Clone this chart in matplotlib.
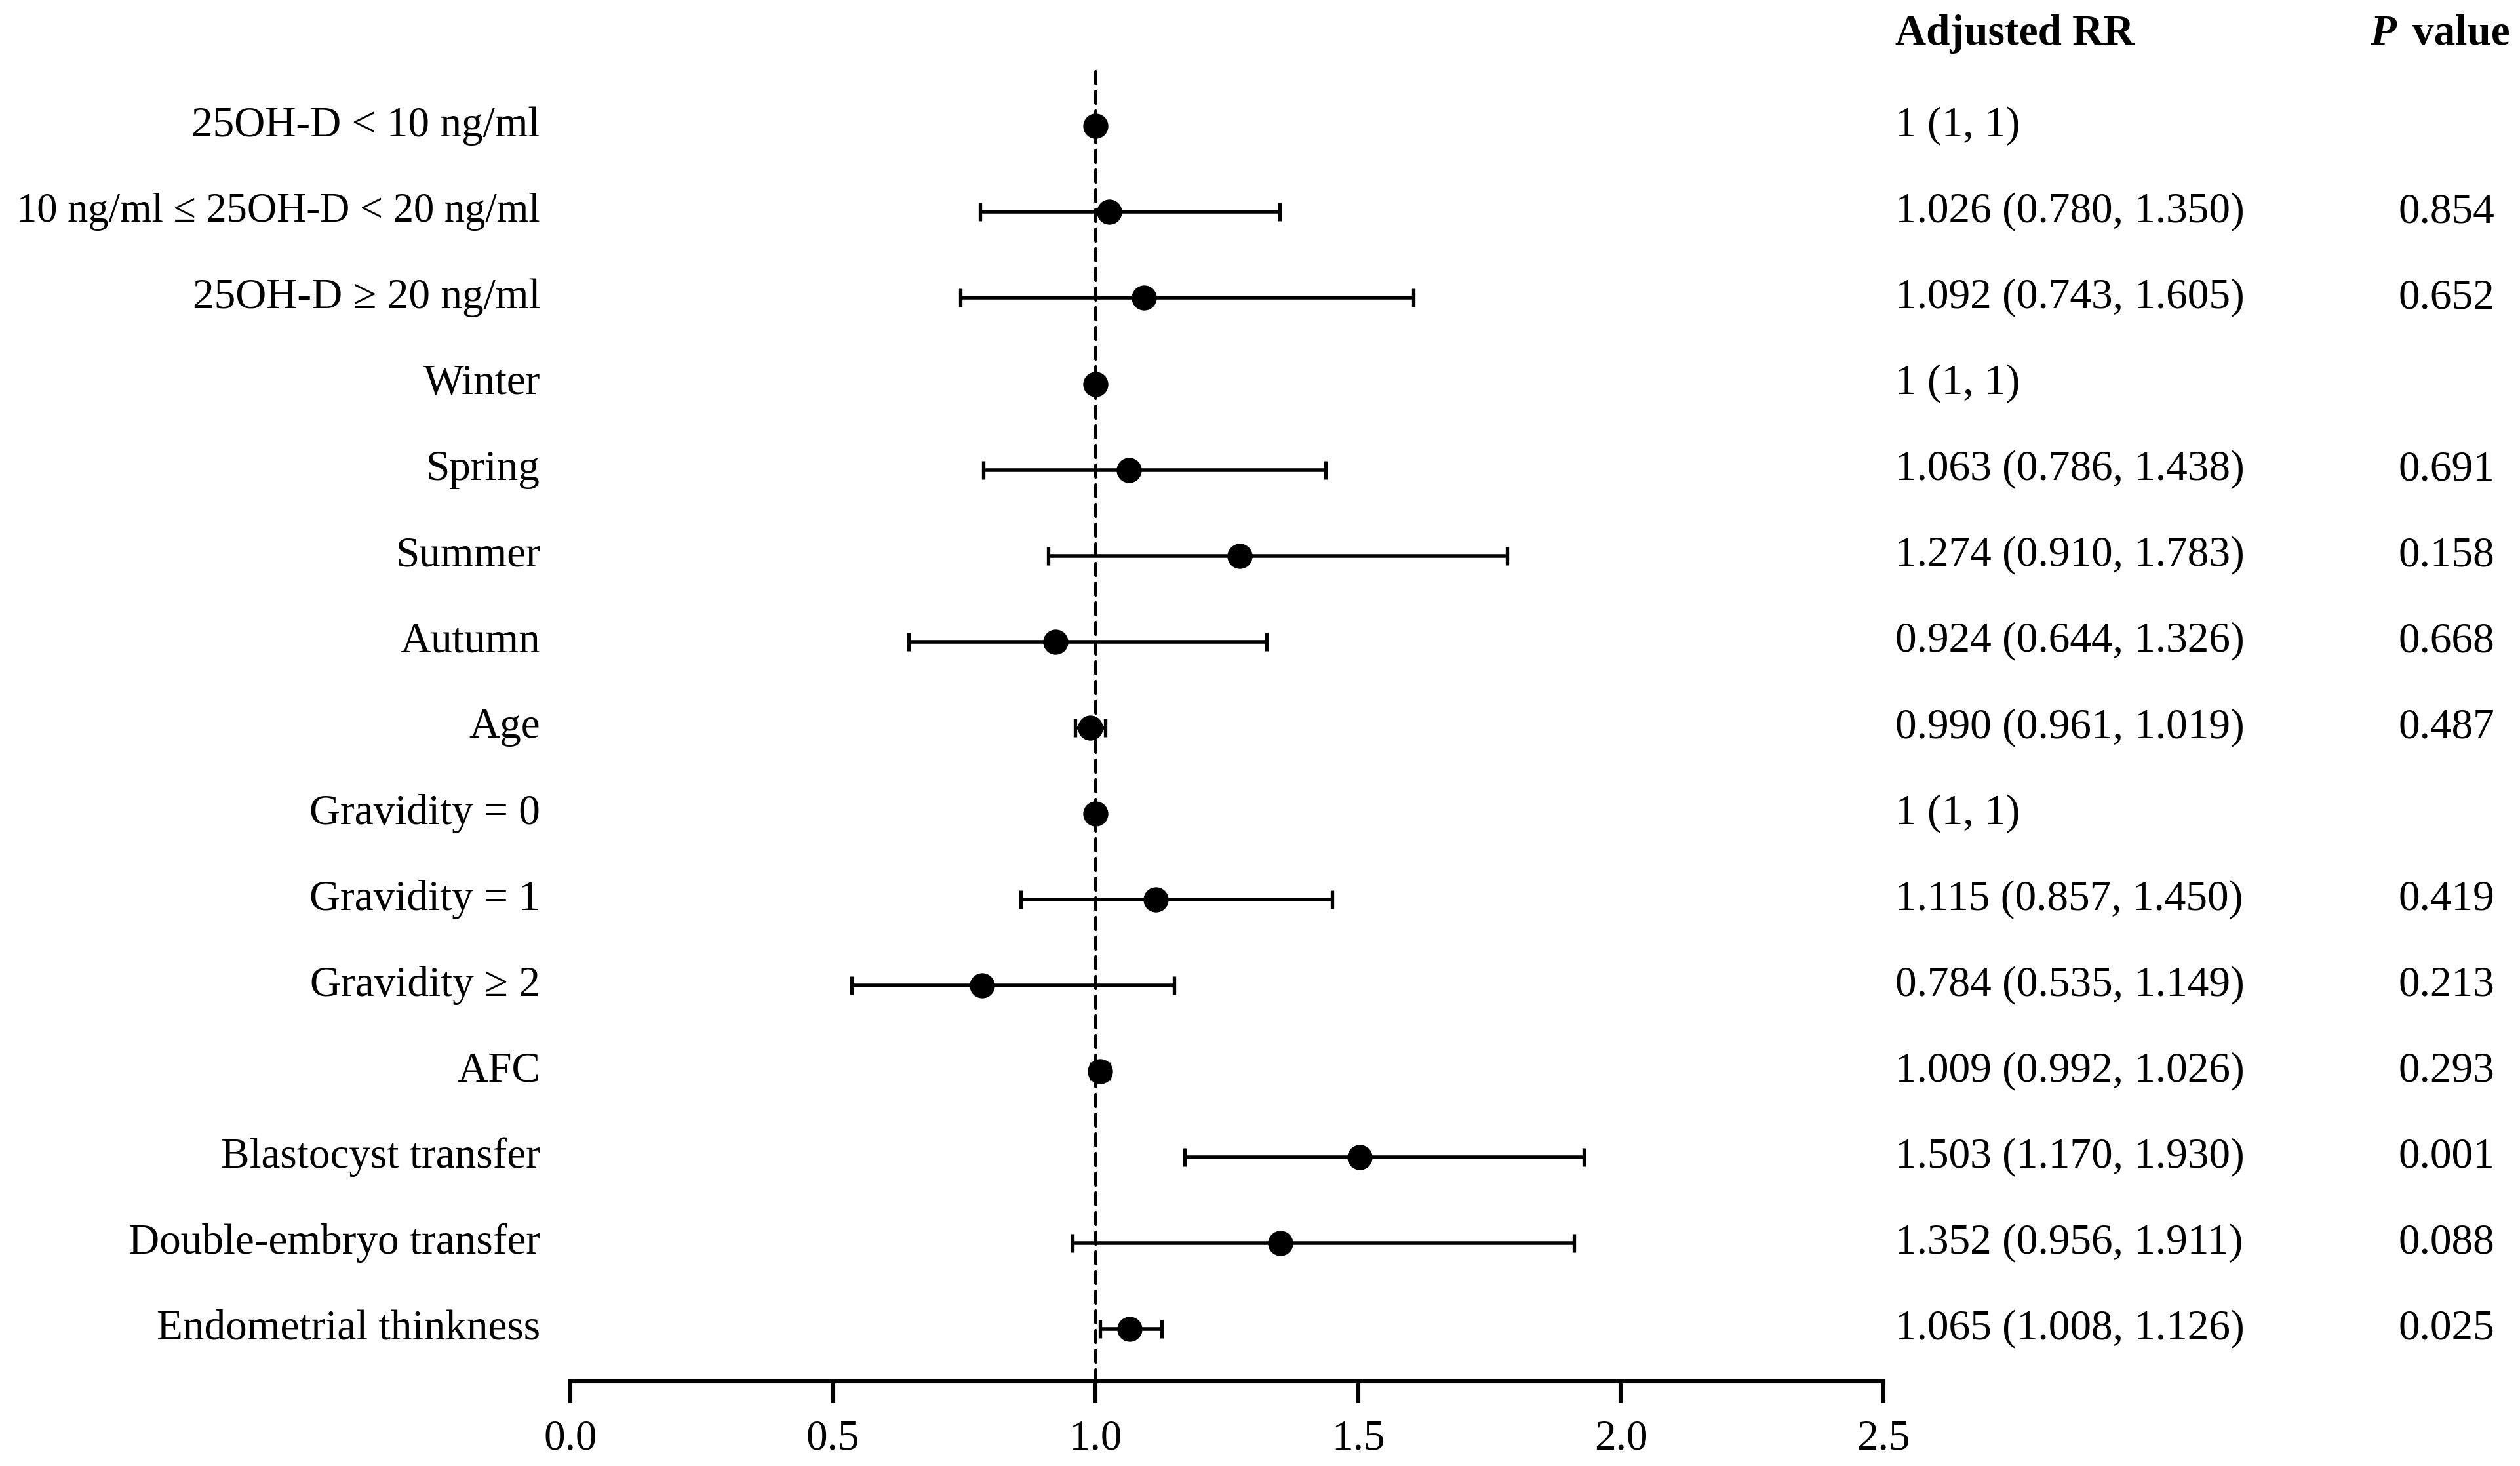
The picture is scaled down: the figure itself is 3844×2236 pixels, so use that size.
import matplotlib
matplotlib.use("Agg")
import matplotlib.pyplot as plt
import matplotlib.transforms as mtransforms
import numpy as np

# data
labels = ["25OH-D < 10 ng/ml", "10 ng/ml \u2264 25OH-D < 20 ng/ml", "25OH-D \u2265 20 ng/ml",
          "Winter", "Spring", "Summer", "Autumn", "Age",
          "Gravidity = 0", "Gravidity = 1", "Gravidity \u2265 2", "AFC",
          "Blastocyst transfer", "Double-embryo transfer", "Endometrial thinkness"]
rr = [1, 1.026, 1.092, 1, 1.063, 1.274, 0.924, 0.990, 1, 1.115, 0.784, 1.009, 1.503, 1.352, 1.065]
lo = [1, 0.780, 0.743, 1, 0.786, 0.910, 0.644, 0.961, 1, 0.857, 0.535, 0.992, 1.170, 0.956, 1.008]
hi = [1, 1.350, 1.605, 1, 1.438, 1.783, 1.326, 1.019, 1, 1.450, 1.149, 1.026, 1.930, 1.911, 1.126]
rr_text = ["1 (1, 1)", "1.026 (0.780, 1.350)", "1.092 (0.743, 1.605)", "1 (1, 1)",
           "1.063 (0.786, 1.438)", "1.274 (0.910, 1.783)", "0.924 (0.644, 1.326)",
           "0.990 (0.961, 1.019)", "1 (1, 1)", "1.115 (0.857, 1.450)", "0.784 (0.535, 1.149)",
           "1.009 (0.992, 1.026)", "1.503 (1.170, 1.930)", "1.352 (0.956, 1.911)",
           "1.065 (1.008, 1.126)"]
p_text = ["", "0.854", "0.652", "", "0.691", "0.158", "0.668", "0.487", "", "0.419",
          "0.213", "0.293", "0.001", "0.088", "0.025"]
xticks = [0.0, 0.5, 1.0, 1.5, 2.0, 2.5]

plt.rcParams["font.family"] = ["Liberation Serif", "DejaVu Serif"]
plt.rcParams["font.size"] = 23.5

W, H = 3844, 2236
fig = plt.figure(figsize=(W / 200, H / 200), dpi=200)
ax = fig.add_axes([870 / W, 1 - 2107 / H, 2003 / W, (2107 - 98) / H])

y = np.arange(len(labels))
rr = np.array(rr); lo = np.array(lo); hi = np.array(hi)

ax.axvline(1.0, color="black", lw=1.8, linestyle=(0, (3.6, 2.4)),
           dash_capstyle="round", zorder=1)
eb = ax.errorbar(rr, y, xerr=[rr - lo, hi - rr], fmt="o", color="black", ms=12.8,
                 elinewidth=2.0, capsize=5.2, capthick=1.9, zorder=3, clip_on=False)
for cap in eb[1]:
    cap.set_solid_capstyle("round")

ax.set_xlim(0, 2.5)
ax.set_ylim(14.61, -0.72)
ax.set_xticks(xticks)
ax.set_xticklabels([f"{t:.1f}" for t in xticks])
ax.set_yticks([])
for s in ["top", "right", "left"]:
    ax.spines[s].set_visible(False)
ax.spines["bottom"].set_linewidth(2.2)
ax.tick_params(axis="x", direction="out", length=12, width=2.2, pad=9, labelsize=23.5)

tr = mtransforms.blended_transform_factory(fig.transFigure, ax.transData)
for i in range(len(labels)):
    fs = 22.5 if i == 1 else 23.5
    ax.text(824 / W, i, labels[i], transform=tr, ha="right", va="center", fontsize=fs)
    ax.text(2891 / W, i, rr_text[i], transform=tr, ha="left", va="center")
    if p_text[i]:
        ax.text(3732 / W, i, p_text[i], transform=tr, ha="center", va="center")

fig.text(2891 / W, 1 - 52 / H, "Adjusted RR", ha="left", va="center", fontweight="bold")
fig.text(3615 / W, 1 - 52 / H, "P", ha="left", va="center",
         fontweight="bold", fontstyle="italic")
fig.text(3680 / W, 1 - 52 / H, "value", ha="left", va="center", fontweight="bold")

fig.savefig("out.png", dpi=200, facecolor="white")
